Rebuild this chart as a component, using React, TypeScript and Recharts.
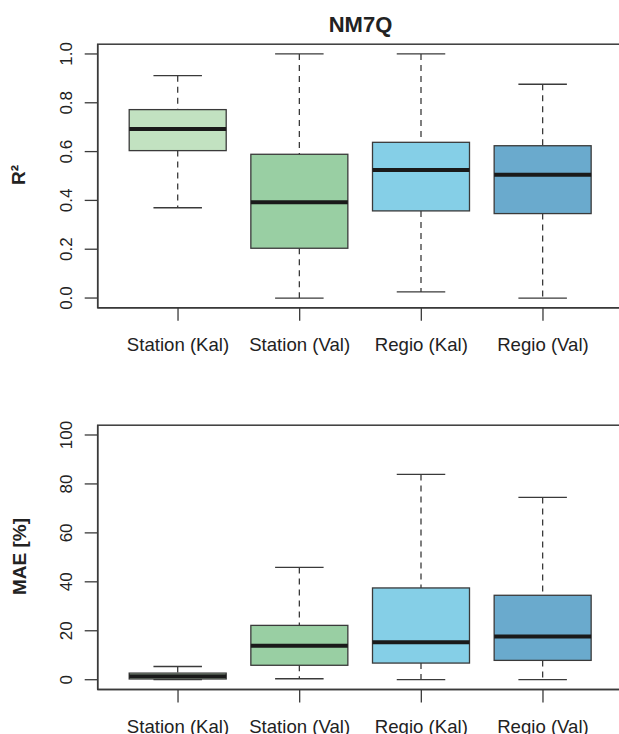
import React from 'react';
import { ComposedChart, Bar, XAxis, YAxis } from 'recharts';

const categories = ['Station (Kal)', 'Station (Val)', 'Regio (Kal)', 'Regio (Val)'];
const boxColors = ['#c2e2c1', '#99cfa3', '#85cfe7', '#6aaacd'];

// R² boxplot stats
const r2Min = [0.37, 0.0, 0.025, 0.0];
const r2Q1 = [0.604, 0.204, 0.357, 0.346];
const r2Median = [0.693, 0.392, 0.525, 0.505];
const r2Q3 = [0.772, 0.589, 0.638, 0.624];
const r2Max = [0.911, 1.0, 1.0, 0.876];
const r2Ticks = [0, 0.2, 0.4, 0.6, 0.8, 1.0];

// MAE [%] boxplot stats
const maeMin = [0.0, 0.4, 0.0, 0.0];
const maeQ1 = [0.3, 5.9, 6.8, 7.9];
const maeMedian = [1.4, 13.9, 15.3, 17.7];
const maeQ3 = [2.7, 22.2, 37.5, 34.5];
const maeMax = [5.4, 45.9, 83.9, 74.5];
const maeTicks = [0, 20, 40, 60, 80, 100];

const FONT = '"Liberation Sans", Arial, sans-serif';
const AXIS = '#3a3a3a';

// plot frame (R draws a box around each panel)
const PLOT_LEFT = 97.7;
const PLOT_RIGHT = 623.3;

function buildRows(mn: number[], q1: number[], med: number[], q3: number[], mx: number[]) {
  return categories.map((name, i) => ({
    name,
    range: [mn[i], mx[i]],
    min: mn[i],
    q1: q1[i],
    median: med[i],
    q3: q3[i],
    max: mx[i],
    color: boxColors[i],
  }));
}

const BoxShape = (props: any) => {
  const { x, y, width, height, payload } = props;
  if (!payload) return null;
  const k = height / (payload.max - payload.min);
  const py = (v: number) => y + (payload.max - v) * k;
  const cx = x + width / 2;
  const cap = width / 4;
  return (
    <g>
      <line x1={cx} x2={cx} y1={py(payload.max)} y2={py(payload.q3)} stroke={AXIS} strokeWidth={1.3} strokeDasharray="6 5" />
      <line x1={cx} x2={cx} y1={py(payload.q1)} y2={py(payload.min)} stroke={AXIS} strokeWidth={1.3} strokeDasharray="6 5" />
      <line x1={cx - cap} x2={cx + cap} y1={py(payload.max)} y2={py(payload.max)} stroke={AXIS} strokeWidth={1.3} />
      <line x1={cx - cap} x2={cx + cap} y1={py(payload.min)} y2={py(payload.min)} stroke={AXIS} strokeWidth={1.3} />
      <rect x={x} y={py(payload.q3)} width={width} height={py(payload.q1) - py(payload.q3)} fill={payload.color} stroke={AXIS} strokeWidth={1.3} />
      <line x1={x} x2={x + width} y1={py(payload.median)} y2={py(payload.median)} stroke="#1a1a1a" strokeWidth={4} />
    </g>
  );
};

const XTick = (props: any) => {
  const { x, y, payload } = props;
  return (
    <text x={x} y={y + 28.5} textAnchor="middle" fontSize={18.6} fontFamily={FONT} fill="#222">
      {payload.value}
    </text>
  );
};

const makeYTick = (fmt: (v: number) => string) => (props: any) => {
  const { x, y, payload } = props;
  return (
    <text transform={`translate(${x - 11}, ${y}) rotate(-90)`} textAnchor="middle" fontSize={17} fontFamily={FONT} fill="#222">
      {fmt(payload.value)}
    </text>
  );
};

function Panel({ data, domain, ticks, fmt, height, top, bottom }: any) {
  return (
    <ComposedChart width={640} height={height} data={data} margin={{ top, right: 640 - PLOT_RIGHT, left: PLOT_LEFT - 40, bottom }}>
      <XAxis
        dataKey="name"
        height={40}
        padding={{ left: 19.5, right: 19.5 }}
        tickSize={13}
        tickLine={{ stroke: AXIS, strokeWidth: 1.3 }}
        axisLine={{ stroke: AXIS, strokeWidth: 1.5 }}
        tick={<XTick />}
        interval={0}
      />
      <XAxis xAxisId="top" dataKey="name" orientation="top" height={0} tick={false} tickLine={false} axisLine={{ stroke: AXIS, strokeWidth: 1.5 }} />
      <YAxis
        type="number"
        domain={domain}
        ticks={ticks}
        width={40}
        tickSize={13}
        allowDataOverflow
        tickLine={{ stroke: AXIS, strokeWidth: 1.3 }}
        axisLine={{ stroke: AXIS, strokeWidth: 1.5 }}
        tick={makeYTick(fmt)}
        interval={0}
      />
      <YAxis yAxisId="right" orientation="right" type="number" domain={domain} width={0} tick={false} tickLine={false} axisLine={{ stroke: AXIS, strokeWidth: 1.5 }} />
      <Bar dataKey="range" barSize={97} shape={<BoxShape />} isAnimationActive={false} />
    </ComposedChart>
  );
}

export default function App() {
  const r2Rows = buildRows(r2Min, r2Q1, r2Median, r2Q3, r2Max);
  const maeRows = buildRows(maeMin, maeQ1, maeMedian, maeQ3, maeMax);
  return (
    <div style={{ position: 'absolute', left: 0, top: 0, width: 619, height: 734, overflow: 'hidden', background: '#fff' }}>
      <div style={{ position: 'absolute', left: 0, top: 0 }}>
        <Panel data={r2Rows} domain={[-0.04, 1.04]} ticks={r2Ticks} fmt={(v: number) => v.toFixed(1)} height={370} top={44.2} bottom={22.2} />
      </div>
      <div style={{ position: 'absolute', left: 0, top: 380 }}>
        <Panel data={maeRows} domain={[-4, 104]} ticks={maeTicks} fmt={(v: number) => String(v)} height={354} top={45.2} bottom={4.5} />
      </div>
      <svg width={619} height={734} style={{ position: 'absolute', left: 0, top: 0, pointerEvents: 'none' }}>
        <rect x={PLOT_LEFT} y={44.2} width={PLOT_RIGHT - PLOT_LEFT} height={263.6} fill="none" stroke={AXIS} strokeWidth={1.5} />
        <rect x={PLOT_LEFT} y={425.2} width={PLOT_RIGHT - PLOT_LEFT} height={264.3} fill="none" stroke={AXIS} strokeWidth={1.5} />
        <text x={360.5} y={31.5} textAnchor="middle" fontSize={22} fontWeight="bold" fontFamily={FONT} fill="#222">NM7Q</text>
        <text transform="translate(24.5, 175) rotate(-90)" textAnchor="middle" fontSize={19} fontWeight="bold" fontFamily={FONT} fill="#222">R²</text>
        <text transform="translate(25.5, 556.5) rotate(-90)" textAnchor="middle" fontSize={19} fontWeight="bold" fontFamily={FONT} fill="#222">MAE [%]</text>
      </svg>
    </div>
  );
}
